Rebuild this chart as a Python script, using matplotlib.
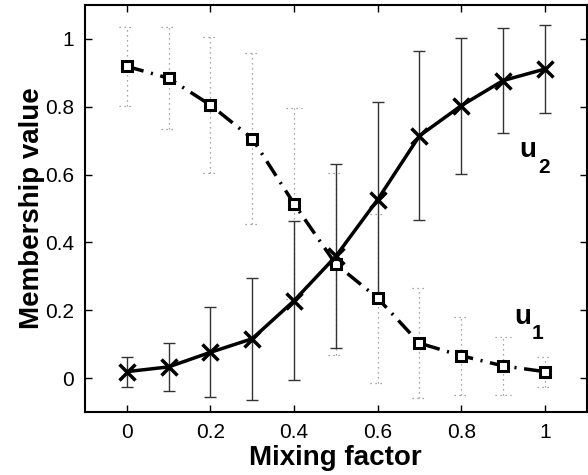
import numpy as np
import matplotlib
matplotlib.use("Agg")
import matplotlib.pyplot as plt

plt.rcParams['font.family'] = ['Liberation Sans', 'DejaVu Sans']

# mixing factor
mix = [0.0, 0.1, 0.2, 0.3, 0.4, 0.5, 0.6, 0.7, 0.8, 0.9, 1.0]

# u1 : dash-dot line with squares, dotted error bars
u1 = [0.919, 0.884, 0.805, 0.706, 0.514, 0.336, 0.236, 0.103, 0.066, 0.036, 0.019]
u1_err = [0.116, 0.151, 0.200, 0.252, 0.282, 0.268, 0.249, 0.162, 0.115, 0.085, 0.044]

# u2 : solid line with crosses, solid error bars
u2 = [0.019, 0.033, 0.076, 0.116, 0.228, 0.359, 0.526, 0.714, 0.803, 0.877, 0.911]
u2_err = [0.044, 0.071, 0.133, 0.180, 0.234, 0.271, 0.287, 0.249, 0.200, 0.154, 0.131]

xticks = [0, 0.2, 0.4, 0.6, 0.8, 1.0]
xticklabels = ['0', '0.2', '0.4', '0.6', '0.8', '1']
yticks = [0, 0.2, 0.4, 0.6, 0.8, 1.0]
yticklabels = ['0', '0.2', '0.4', '0.6', '0.8', '1']

fig = plt.figure(figsize=(5.88, 4.75), dpi=100)
ax = fig.add_axes([0.1446, 0.1326, 0.853, 0.857])

x = np.array(mix)
a1 = np.array(u1)
e1 = np.array(u1_err)
a2 = np.array(u2)
e2 = np.array(u2_err)

# u1 dotted error bars (caps dotted too)
cw = 0.018
ax.vlines(x, a1 - e1, a1 + e1, colors='#888888', linestyles=(0, (1, 3)), linewidth=0.9, zorder=1)
ax.hlines(a1 - e1, x - cw, x + cw, colors='#888888', linestyles=(0, (1, 3)), linewidth=0.9, zorder=1)
ax.hlines(a1 + e1, x - cw, x + cw, colors='#888888', linestyles=(0, (1, 3)), linewidth=0.9, zorder=1)

# u2 solid error bars
ax.errorbar(x, a2, yerr=e2, fmt='none', ecolor='#333333', elinewidth=1.0,
            capsize=4, capthick=1.0, zorder=2)

# u1 line
l1, = ax.plot(x, a1, color='black', linewidth=2.5, marker='s', markersize=7,
              markerfacecolor='white', markeredgecolor='black', markeredgewidth=2.2, zorder=3)
l1.set_dashes([5, 2.2, 0.6, 2.2])

# u2 line
ax.plot(x, a2, color='black', linewidth=2.5, marker='x', markersize=11,
        markeredgewidth=2.5, zorder=4)

# curve labels (letter + lowered subscript)
ax.text(0.979, 0.651, 'u', fontsize=20, fontweight='bold', ha='right', va='baseline')
ax.text(0.984, 0.604, '2', fontsize=15, fontweight='bold', ha='left', va='baseline')
ax.text(0.967, 0.160, 'u', fontsize=20, fontweight='bold', ha='right', va='baseline')
ax.text(0.968, 0.115, '1', fontsize=15, fontweight='bold', ha='left', va='baseline')

ax.set_xlim(-0.1, 1.1)
ax.set_ylim(-0.1, 1.1)
ax.set_xticks(xticks)
ax.set_xticklabels(xticklabels)
ax.set_yticks(yticks)
ax.set_yticklabels(yticklabels)
ax.tick_params(direction='in', length=5, width=1, top=True, right=True, labelsize=15, pad=8)
for s in ax.spines.values():
    s.set_linewidth(1.5)

ax.set_xlabel('Mixing factor', fontsize=20, fontweight='bold', labelpad=2)
ax.set_ylabel('Membership value', fontsize=20, fontweight='bold', labelpad=0)

fig.savefig('out.png', dpi=100)
